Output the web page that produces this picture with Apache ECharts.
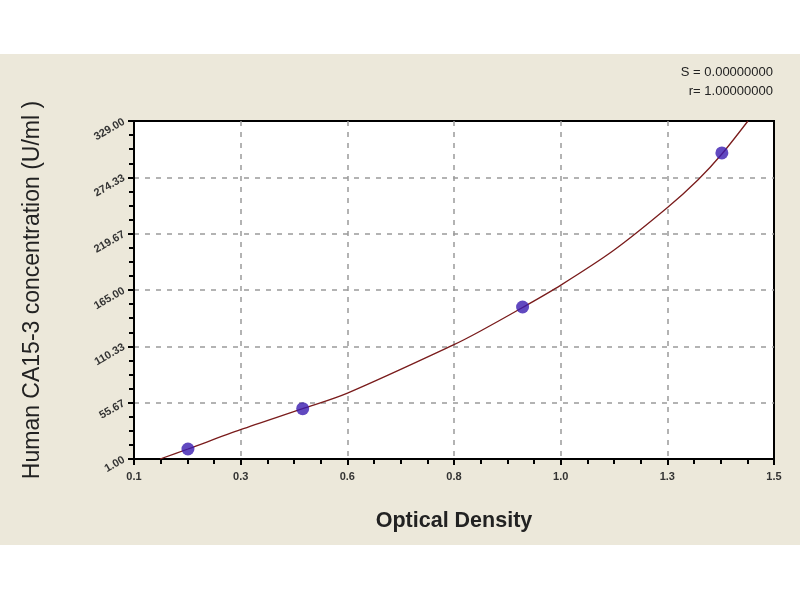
<!DOCTYPE html>
<html>
<head>
<meta charset="utf-8">
<script src="https://cdn.jsdelivr.net/npm/echarts@6/dist/echarts.min.js"></script>
<style>
html,body{margin:0;padding:0;background:#ffffff;}
#chart{width:800px;height:600px;}
</style>
</head>
<body>
<div id="chart"></div>
<script>
// Axis ranges and tick labels
const xMin = 0.1, xMax = 1.5;
const yMin = 1.0, yMax = 329.0;
const xTickLabels = ['0.1', '0.3', '0.6', '0.8', '1.0', '1.3', '1.5'];
const yTickLabels = ['1.00', '55.67', '110.33', '165.00', '219.67', '274.33', '329.00'];

// Standard points (optical density, concentration)
const stdOD = [0.218, 0.469, 0.950, 1.386];
const stdConc = [10.7, 49.8, 148.5, 298.0];

// Fitted curve, points
const curveOD = [0.157, 0.218, 0.333, 0.469, 0.567, 0.800, 0.857, 0.950, 1.033, 1.148, 1.267, 1.334, 1.386, 1.443];
const curveConc = [1.0, 10.7, 29.4, 49.8, 65.0, 112.0, 125.0, 148.0, 169.5, 203.0, 245.0, 272.0, 297.0, 329.0];

const statLines = ['S = 0.00000000', 'r= 1.00000000'];

const xSpan = xMax - xMin, ySpan = yMax - yMin;
const nTicks = xTickLabels.length - 1;

const chart = echarts.init(document.getElementById('chart'), null, {renderer: 'canvas'});

const tickFont = {fontFamily: 'Liberation Sans', fontSize: 11, fontWeight: 'bold', color: '#333'};
const gridLine = {show: true, showMinLine: false, showMaxLine: false, lineStyle: {color: '#9a9a9a', type: [5, 6], width: 1.5}};

chart.setOption({
  animation: false,
  backgroundColor: '#ffffff',
  graphic: [
    {type: 'rect', z: -10, silent: true, shape: {x: 0, y: 54, width: 800, height: 491}, style: {fill: '#ECE8DA'}},
    {type: 'text', right: 27, top: 66, z: 10, style: {text: statLines[0], fontFamily: 'Liberation Sans', fontSize: 13, fill: '#222', textAlign: 'right'}},
    {type: 'text', right: 27, top: 85, z: 10, style: {text: statLines[1], fontFamily: 'Liberation Sans', fontSize: 13, fill: '#222', textAlign: 'right'}}
  ],
  grid: {
    left: 134, right: 26, top: 121, bottom: 141,
    show: true, backgroundColor: '#ffffff', borderColor: '#000', borderWidth: 2
  },
  xAxis: {
    type: 'value',
    min: 0, max: xSpan, interval: xSpan / nTicks,
    name: 'Optical Density',
    nameLocation: 'middle', nameGap: 51,
    nameTextStyle: {fontFamily: 'Liberation Sans', fontSize: 21.5, fontWeight: 'bold', color: '#222'},
    axisLine: {lineStyle: {color: '#000', width: 2}},
    axisTick: {show: true, length: 6, lineStyle: {color: '#000', width: 2}},
    minorTick: {show: true, splitNumber: 4, length: 5, lineStyle: {color: '#000', width: 2}},
    splitLine: gridLine,
    axisLabel: Object.assign({margin: 12, formatter: function (v) {
      const i = Math.round(v / (xSpan / nTicks));
      return xTickLabels[i] !== undefined ? xTickLabels[i] : '';
    }}, tickFont)
  },
  yAxis: {
    type: 'value',
    min: 0, max: ySpan, interval: ySpan / nTicks,
    name: 'Human CA15-3 concentration (U/ml )',
    nameLocation: 'middle', nameGap: 90,
    nameTextStyle: {fontFamily: 'Liberation Sans', fontSize: 23, color: '#222'},
    axisLine: {lineStyle: {color: '#000', width: 2}},
    axisTick: {show: true, length: 6, lineStyle: {color: '#000', width: 2}},
    minorTick: {show: true, splitNumber: 4, length: 5, lineStyle: {color: '#000', width: 2}},
    splitLine: gridLine,
    axisLabel: Object.assign({margin: 10, rotate: 30, formatter: function (v) {
      const i = Math.round(v / (ySpan / nTicks));
      return yTickLabels[i] !== undefined ? yTickLabels[i] : '';
    }}, tickFont)
  },
  series: [
    {
      type: 'line',
      smooth: 0.3,
      showSymbol: false,
      silent: true,
      lineStyle: {color: '#7a1c1c', width: 1.3},
      data: curveOD.map((x, i) => [x - xMin, curveConc[i] - yMin]),
      z: 2
    },
    {
      type: 'scatter',
      symbol: 'circle',
      symbolSize: 13,
      itemStyle: {color: '#3a1cb0'},
      data: stdOD.map((x, i) => [x - xMin, stdConc[i] - yMin]),
      z: 3
    }
  ]
});
</script>
</body>
</html>
